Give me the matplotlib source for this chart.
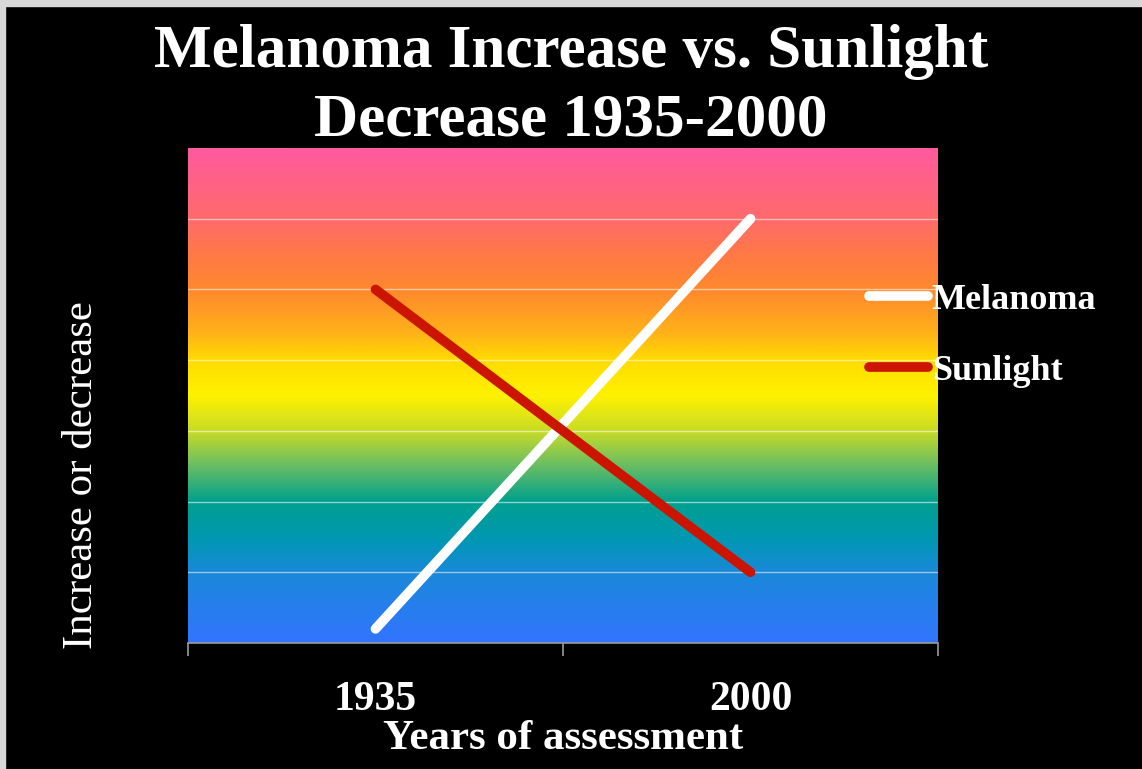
import numpy as np
import matplotlib
matplotlib.use("Agg")
import matplotlib.pyplot as plt
from matplotlib.colors import LinearSegmentedColormap
from matplotlib.patches import Rectangle

years = ["1935", "2000"]
melanoma = [0.2, 6.0]
sunlight = [5.0, 1.0]

# background gradient stops (fraction from bottom, colour)
grad_stops = [
    (0.00, "#3274FF"),
    (0.14, "#1A88DA"),
    (0.21, "#0098B2"),
    (0.285, "#00A08E"),
    (0.36, "#6CBE62"),
    (0.43, "#CADC26"),
    (0.50, "#FFF200"),
    (0.57, "#FFDC00"),
    (0.63, "#FFB01A"),
    (0.71, "#FF8A2C"),
    (0.79, "#FF7848"),
    (0.86, "#FF6A6C"),
    (1.00, "#FF5A9E"),
]

plt.rcParams["font.family"] = ["Liberation Serif", "DejaVu Serif"]

fig = plt.figure(figsize=(11.42, 7.69), dpi=100, facecolor="black")
ax = fig.add_axes([188 / 1142, 1 - 643 / 769, 750 / 1142, 495 / 769])
ax.set_facecolor("black")

ymax = 7
cmap = LinearSegmentedColormap.from_list("rainbow_bg", grad_stops)
grad = np.linspace(0, 1, 512).reshape(-1, 1)
ax.imshow(grad, cmap=cmap, origin="lower", aspect="auto",
          extent=[0, 2, 0, ymax], zorder=0)

for y in range(1, ymax):
    ax.axhline(y, color="white", alpha=0.55, lw=1.0, zorder=1)

x = np.arange(len(years)) + 0.5
ax.plot(x, melanoma, color="white", lw=7, solid_capstyle="round",
        label="Melanoma", zorder=3)
ax.plot(x, sunlight, color="#CC1500", lw=7, solid_capstyle="round",
        label="Sunlight", zorder=3)

ax.set_xlim(0, 2)
ax.set_ylim(0, ymax)
ax.set_yticks([])
ax.set_xticks([0, 1, 2])
ax.set_xticklabels([])
ax.set_xticks(x, minor=True)
ax.set_xticklabels(years, minor=True, fontsize=30, fontweight="bold", color="white")
ax.tick_params(axis="x", which="major", length=9, color="#9A9A9A", width=1.2)
ax.tick_params(axis="x", which="minor", length=0, pad=27)

for s in ["top", "right", "left"]:
    ax.spines[s].set_visible(False)
ax.spines["bottom"].set_color("#9A9A9A")
ax.spines["bottom"].set_linewidth(1.2)

ax.set_xlabel("Years of assessment", fontsize=31, fontweight="bold",
              color="white", labelpad=1)
fig.text(82 / 1142, 1 - 475 / 769, "Increase or decrease", rotation=90,
         ha="center", va="center", fontsize=31, color="white")

fig.text(0.5, 1 - 86 / 769, "Melanoma Increase vs. Sunlight\nDecrease 1935-2000",
         ha="center", va="center", fontsize=44, fontweight="bold",
         color="white", linespacing=1.3)

leg = ax.legend(loc="upper left", bbox_to_anchor=(836 / 1142, 1 - 251 / 769),
                bbox_transform=fig.transFigure, frameon=False, fontsize=26,
                handlelength=1.65, handletextpad=0.1, labelspacing=1.05)
for t in leg.get_texts():
    t.set_color("white")
    t.set_fontweight("bold")

# light frame on the top and left edges
fig.patches.append(Rectangle((0, 1 - 6 / 769), 1, 6 / 769, transform=fig.transFigure,
                             color="#D8D8D8", zorder=0))
fig.patches.append(Rectangle((0, 0), 5 / 1142, 1, transform=fig.transFigure,
                             color="#D8D8D8", zorder=0))

fig.savefig("out.png", dpi=100, facecolor="black")
